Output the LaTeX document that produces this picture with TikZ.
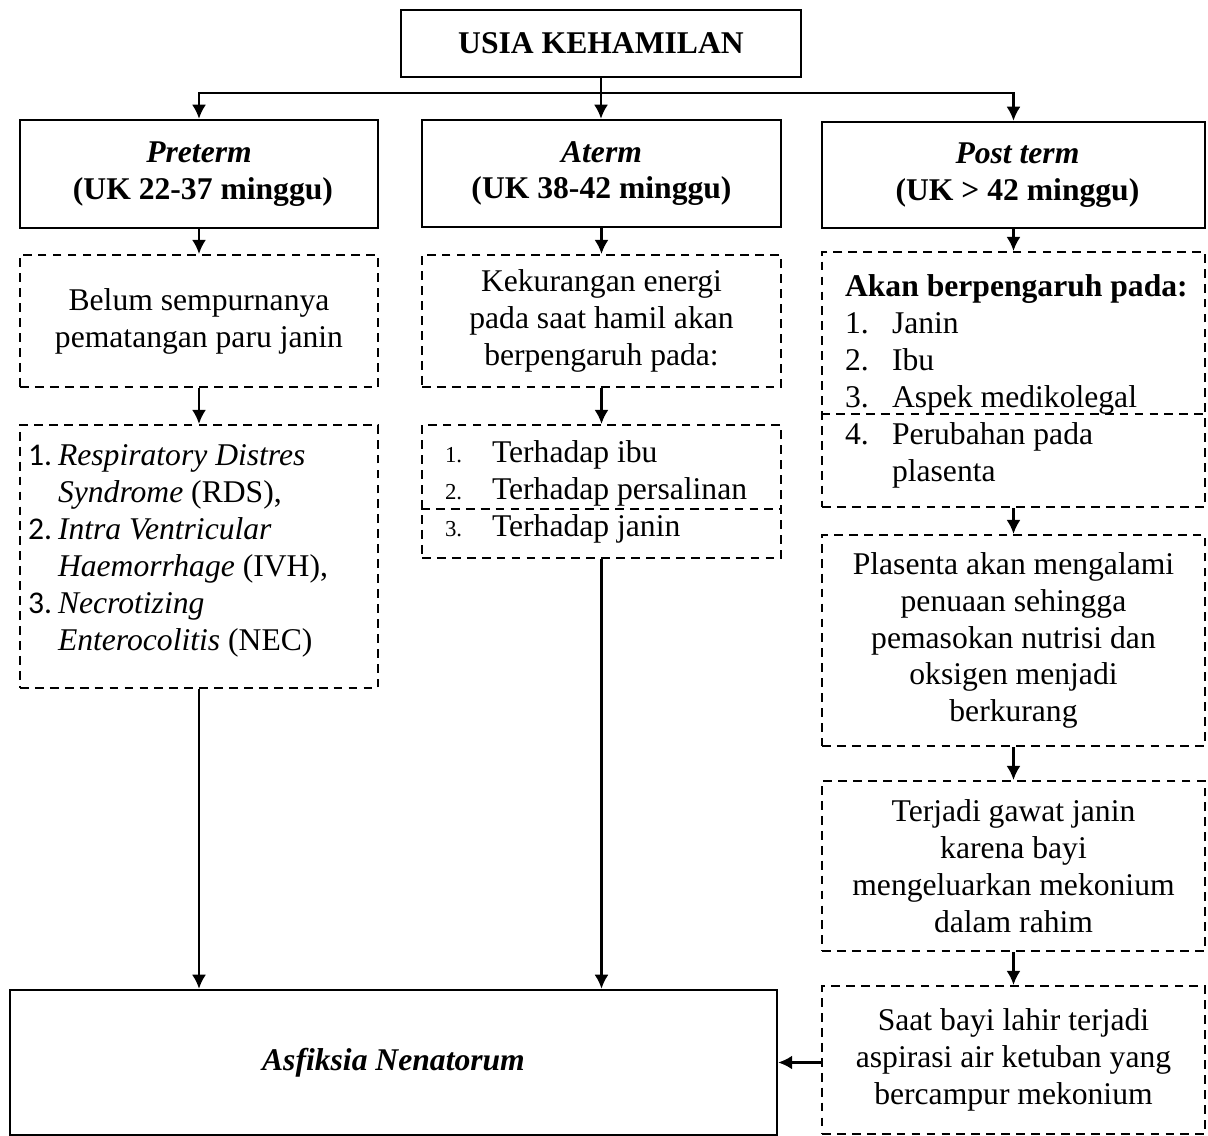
\documentclass[tikz,border=0pt]{standalone}
\usepackage{fontspec}
\setmainfont{Liberation Serif}
\newfontfamily\numfont{Carlito}
\usetikzlibrary{arrows.meta}

\begin{document}
\begin{tikzpicture}[x=0.02cm, y=-0.02cm,
      every node/.style = {font=\fontsize{18}{21}\selectfont, inner sep=0.16cm},
      solidbox/.style = {draw, line width=1.4pt, align=center},
      dashbox/.style = {draw, line width=1.2pt, dash pattern=on 5pt off 3.5pt, align=center},
      listbox/.style = {dashbox, align=flush left},
      divline/.style = {line width=1.2pt, dash pattern=on 5pt off 3.5pt},
      arr/.style = {line width=1.4pt, -{Latex[length=8pt, width=8pt]}}]
      \useasboundingbox (0,0) rectangle (1208,1136);

      % top row
      \node[solidbox, minimum width=8cm, minimum height=1.34cm] (usia) at (601,43.5)
        {\textbf{USIA KEHAMILAN}};
      \node[solidbox, minimum width=7.16cm, minimum height=2.16cm] (preterm) at (199,174)
        {\textbf{\textit{Preterm}}\\ \textbf{\ (UK 22-37 minggu)}};
      \node[solidbox, minimum width=7.18cm, minimum height=2.14cm] (aterm) at (601.5,173.5)
        {\textbf{\textit{Aterm}}\\ \textbf{(UK 38-42 minggu)}};
      \node[solidbox, minimum width=7.66cm, minimum height=2.12cm] (postterm) at (1013.5,175)
        {\textbf{\textit{\ Post term}}\\ \textbf{\ (UK > 42 minggu)}};

      % preterm column
      \node[dashbox, minimum width=7.16cm, minimum height=2.64cm] (belum) at (199,321)
        {Belum sempurnanya\\ pematangan paru janin};
      \node[listbox, minimum width=7.16cm, minimum height=5.26cm, text width=6.84cm] (gangguan) at (199,556.5)
        {\makebox[0.6cm][l]{\numfont 1.}\textit{Respiratory Distres}\\
         \hspace*{0.6cm}\textit{Syndrome} (RDS),\\
         \makebox[0.6cm][l]{\numfont 2.}\textit{Intra Ventricular}\\
         \hspace*{0.6cm}\textit{Haemorrhage} (IVH),\\
         \makebox[0.6cm][l]{\numfont 3.}\textit{Necrotizing}\\
         \hspace*{0.6cm}\textit{Enterocolitis} (NEC)\rule[-0.35cm]{0pt}{0.35cm}};

      % aterm column
      \node[dashbox, minimum width=7.18cm, minimum height=2.64cm] (energi) at (601.5,321)
        {Kekurangan energi\\ pada saat hamil akan\\ berpengaruh pada:};
      \node[listbox, minimum width=7.18cm, minimum height=2.66cm, inner xsep=0.46cm, text width=6.26cm] (terhadap) at (601.5,491.5)
        {\makebox[0.94cm][l]{\fontsize{13}{21}\selectfont 1.}Terhadap ibu\\
         \makebox[0.94cm][l]{\fontsize{13}{21}\selectfont 2.}Terhadap persalinan\\
         \makebox[0.94cm][l]{\fontsize{13}{21}\selectfont 3.}Terhadap janin};
      \coordinate (cut2) at (601,509);
      \draw[divline] (terhadap.west |- cut2) -- (terhadap.east |- cut2);

      % post term column
      \node[dashbox, minimum width=7.66cm, minimum height=5.1cm, inner xsep=0.46cm, inner ysep=0.46cm] (pengaruh) at (1013.5,379.5)
        {\parbox[c][4.18cm][t]{6.74cm}{\raggedright
         \mbox{\textbf{Akan berpengaruh pada:}}\\
         \makebox[0.94cm][l]{1.}Janin\\
         \makebox[0.94cm][l]{2.}Ibu\\
         \makebox[0.94cm][l]{3.}Aspek medikolegal\\
         \makebox[0.94cm][l]{4.}Perubahan pada\\
         \hspace*{0.94cm}plasenta}};
      \coordinate (cut3) at (1013,414);
      \draw[divline] (pengaruh.west |- cut3) -- (pengaruh.east |- cut3);
      \node[dashbox, minimum width=7.66cm, minimum height=4.22cm] (plasenta) at (1013.5,640.5)
        {Plasenta akan mengalami\\ penuaan sehingga\\ pemasokan nutrisi dan\\ oksigen menjadi\\ berkurang};
      \node[dashbox, minimum width=7.66cm, minimum height=3.4cm] (gawat) at (1013.5,866)
        {Terjadi gawat janin\\ karena bayi\\ mengeluarkan mekonium\\ dalam rahim};
      \node[dashbox, minimum width=7.66cm, minimum height=2.96cm] (aspirasi) at (1013.5,1060)
        {Saat bayi lahir terjadi\\ aspirasi air ketuban yang\\ bercampur mekonium};

      % result
      \node[solidbox, minimum width=15.34cm, minimum height=2.9cm] (asfiksia) at (393.5,1062.5)
        {\textbf{\textit{Asfiksia Nenatorum}}};

      % connectors
      \coordinate (bar) at (601,93);
      \draw[arr] (usia.south) -- (usia.south |- aterm.north);
      \draw[arr] (bar) -| (preterm.north);
      \draw[arr] (bar) -| (postterm.north);
      \draw[arr] (preterm) -- (belum);
      \draw[arr] (belum) -- (gangguan);
      \draw[arr] (aterm) -- (energi);
      \draw[arr] (energi) -- (terhadap);
      \draw[arr] (postterm) -- (pengaruh);
      \draw[arr] (pengaruh) -- (plasenta);
      \draw[arr] (plasenta) -- (gawat);
      \draw[arr] (gawat) -- (aspirasi);
      \draw[arr] (gangguan.south) -- (gangguan.south |- asfiksia.north);
      \draw[arr] (terhadap.south) -- (terhadap.south |- asfiksia.north);
      \draw[arr] (aspirasi.west |- asfiksia.east) -- (asfiksia.east);
\end{tikzpicture}
\end{document}
